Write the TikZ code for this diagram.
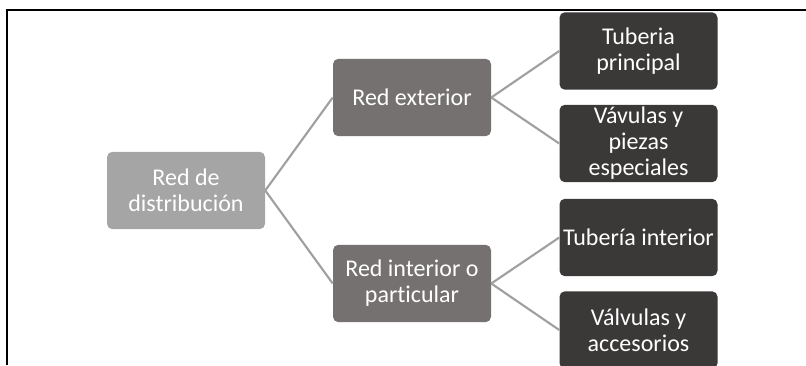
\documentclass[tikz,border=0pt]{standalone}
\usepackage{fontspec}
\setmainfont{Carlito}[Ligatures=NoCommon]
\definecolor{rootgray}{HTML}{A5A5A5}
\definecolor{midgray}{HTML}{767171}
\definecolor{leafgray}{HTML}{3B3838}
\definecolor{linkgray}{HTML}{A0A0A0}
\begin{document}
\begin{tikzpicture}[x=0.75pt, y=0.75pt,
    box/.style={rounded corners=4pt, minimum width=118.5pt, minimum height=58pt,
      inner sep=0pt, align=center, text=white,
      font=\fontsize{18}{19.5}\selectfont},
    link/.style={draw=linkgray, line width=1.6pt}]
    \useasboundingbox (0,0) rectangle (806,365);
    % Frame
    \draw[line width=1.8pt] (7,0) -- (7,355) -- (806,355);
    % Root
    \node[box, fill=rootgray] (red) at (186,174.5) {Red de\\distribución};
    % Second level
    \node[box, fill=midgray] (ext) at (412,267.5) {Red exterior};
    \node[box, fill=midgray] (int) at (412,81.5) {Red interior o\\particular};
    % Leaves
    \node[box, fill=leafgray] (tubp) at (638.5,314) {Tuberia\\principal};
    \node[box, fill=leafgray] (valp) at (638.5,221.5) {Vávulas y\\piezas\\especiales};
    \node[box, fill=leafgray] (tubi) at (638.5,127.5) {Tubería interior};
    \node[box, fill=leafgray] (vala) at (638.5,35) {Válvulas y\\accesorios};
    % Links
    \draw[link] (red.east) -- (ext.west);
    \draw[link] (red.east) -- (int.west);
    \draw[link] (ext.east) -- (tubp.west);
    \draw[link] (ext.east) -- (valp.west);
    \draw[link] (int.east) -- (tubi.west);
    \draw[link] (int.east) -- (vala.west);
\end{tikzpicture}
\end{document}
